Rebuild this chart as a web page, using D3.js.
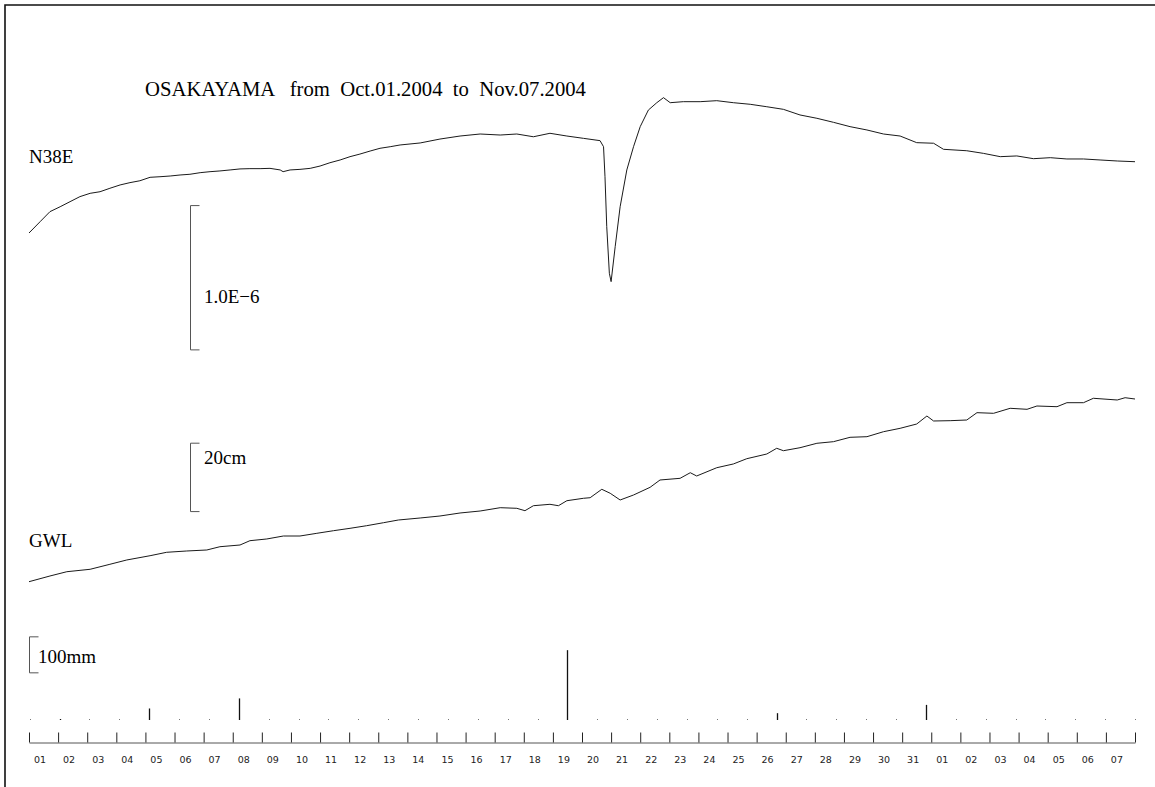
<!DOCTYPE html>
<html>
<head>
<meta charset="utf-8">
<script src="https://cdn.jsdelivr.net/npm/d3@7"></script>
<style>
  body { margin: 0; background: #fff; }
  text { white-space: pre; }
</style>
</head>
<body>
<script>
// day labels under the time axis (Oct.01 .. Nov.07)
let dayLabels = ["01","02","03","04","05","06","07","08","09","10","11","12","13","14","15","16",
  "17","18","19","20","21","22","23","24","25","26","27","28","29","30","31",
  "01","02","03","04","05","06","07"];

// N38E strain (units of 1.0E-6), day since Oct.01 00:00
let n38eDay = [0,0.38,0.72,1.07,1.41,1.75,2.10,2.44,2.78,3.13,3.47,3.81,4.16,4.50,4.85,5.19,5.53,5.88,
  6.22,6.56,6.91,7.25,7.59,7.94,8.28,8.63,8.73,8.97,9.31,9.66,10.00,10.34,10.69,11.03,11.37,11.72,
  12.06,12.41,12.75,13.44,14.12,14.81,15.50,16.19,16.76,17.33,17.90,18.48,19.05,19.62,19.74,19.79,
  19.85,19.94,20.00,20.14,20.31,20.54,20.77,21.00,21.28,21.57,21.80,22.03,22.48,23.06,23.63,24.20,
  24.78,25.35,25.92,26.49,27.07,27.64,28.21,28.79,29.36,29.93,30.50,31.08,31.42,32.22,32.79,33.37,
  33.94,34.51,35.09,35.66,36.23,36.80,37.39,38.00];
let n38eVal = [0,0.078,0.148,0.182,0.217,0.252,0.275,0.286,0.310,0.333,0.349,0.362,0.386,0.390,0.395,
  0.402,0.407,0.418,0.425,0.430,0.437,0.444,0.446,0.446,0.448,0.437,0.425,0.437,0.441,0.448,0.464,
  0.487,0.506,0.529,0.547,0.568,0.587,0.598,0.610,0.624,0.651,0.672,0.686,0.679,0.686,0.667,0.691,
  0.672,0.656,0.640,0.598,0.390,0.044,-0.279,-0.337,-0.095,0.182,0.437,0.598,0.737,0.852,0.903,
  0.938,0.903,0.910,0.910,0.917,0.903,0.892,0.875,0.857,0.818,0.795,0.767,0.737,0.714,0.686,0.672,
  0.626,0.622,0.580,0.570,0.552,0.529,0.534,0.515,0.522,0.513,0.513,0.506,0.499,0.494];

// GWL groundwater level (cm)
let gwlDay = [0,0.72,1.30,2.10,2.78,3.36,4.16,4.73,5.42,6.11,6.56,7.25,7.59,8.17,8.74,9.31,9.89,10.46,
  11.03,11.60,12.18,12.69,13.44,14.12,14.81,15.50,16.19,16.76,17.04,17.33,17.90,18.19,18.48,19.05,
  19.28,19.68,19.97,20.31,20.77,21.34,21.68,22.37,22.72,22.94,23.63,24.20,24.66,25.35,25.69,25.92,
  26.49,27.07,27.64,28.21,28.79,29.36,29.93,30.50,30.85,31.08,31.65,32.22,32.57,33.14,33.71,34.29,
  34.63,35.32,35.66,36.23,36.57,37.39,37.66,38.00];
let gwlVal = [0,1.67,2.92,3.63,5.09,6.35,7.60,8.60,8.98,9.27,10.23,10.73,11.99,12.49,13.36,13.36,14.15,
  14.91,15.61,16.37,17.25,18.04,18.63,19.21,20.09,20.67,21.64,21.46,20.76,22.22,22.63,22.22,23.68,
  24.39,24.56,27.02,25.85,23.89,25.35,27.60,29.74,30.23,31.87,30.91,33.33,34.42,35.96,37.34,39.01,
  38.30,39.18,40.47,40.94,42.22,42.40,43.86,44.85,46.11,48.45,46.99,47.08,47.28,49.42,49.24,50.70,
  50.41,51.37,51.17,52.34,52.34,53.63,53.13,53.80,53.42];

// daily rainfall (mm), one value per day
let rainMm = [0,2,0,0,32,0,0,60,0,0,0,0,0,0,0,0,0,0,194,0,0,0,0,0,0,19,0,0,0,0,42,0,0,0,0,0,0,0];

let svg = d3.select("body").append("svg")
    .attr("width", 1155)
    .attr("height", 787)
    .style("font-family", "'Liberation Serif', 'Times New Roman', serif");

// frame
svg.append("path")
    .attr("d", "M5,787V5H1155")
    .attr("fill", "none")
    .attr("stroke", "#111")
    .attr("stroke-width", 1.6);

let x = d3.scaleLinear().domain([0, 38]).range([29, 1135]);
let xRain = d3.scaleLinear().domain([0, 37]).range([29.7, 1135]);

let yN = d3.scaleLinear().domain([0, 1]).range([233, 88.7]);   // 1.0E-6 per 144 px
let yG = d3.scaleLinear().domain([0, 20]).range([581.7, 513.3]); // 20cm per 68 px
let yR = d3.scaleLinear().domain([0, 100]).range([720, 684]);  // 100mm per 36 px

svg.append("text")
    .attr("x", 145).attr("y", 96)
    .attr("font-size", 20.7)
    .text("OSAKAYAMA   from  Oct.01.2004  to  Nov.07.2004");

let lineN = d3.line()
    .x(function (d, i) { return x(n38eDay[i]); })
    .y(function (d) { return yN(d); });
let lineG = d3.line()
    .x(function (d, i) { return x(gwlDay[i]); })
    .y(function (d) { return yG(d); });

svg.append("path")
    .datum(n38eVal)
    .attr("d", lineN)
    .attr("fill", "none")
    .attr("stroke", "#1a1a1a")
    .attr("stroke-width", 1);

svg.append("path")
    .datum(gwlVal)
    .attr("d", lineG)
    .attr("fill", "none")
    .attr("stroke", "#1a1a1a")
    .attr("stroke-width", 1);

// scale brackets
function bracket(x0, yTop, yBot) {
    svg.append("path")
        .attr("d", "M" + (x0 + 9) + "," + yTop + "H" + x0 + "V" + yBot + "H" + (x0 + 9))
        .attr("fill", "none")
        .attr("stroke", "#555")
        .attr("stroke-width", 1);
}
bracket(190.5, yN(0.19), yN(-0.81));
bracket(190.5, yG(40.5), yG(20.5));
bracket(29.5, yR(231), yR(131));

svg.append("text").attr("x", 29).attr("y", 163).attr("font-size", 19).text("N38E");
svg.append("text").attr("x", 204).attr("y", 303).attr("font-size", 19).text("1.0E\u22126");
svg.append("text").attr("x", 204).attr("y", 464).attr("font-size", 19).text("20cm");
svg.append("text").attr("x", 29).attr("y", 547).attr("font-size", 19).text("GWL");
svg.append("text").attr("x", 38).attr("y", 663).attr("font-size", 19).text("100mm");

// rainfall bars
svg.selectAll(".rain")
    .data(rainMm)
    .enter().append("line")
    .attr("class", "rain")
    .attr("x1", function (d, i) { return Math.round(xRain(i)) + 0.5; })
    .attr("x2", function (d, i) { return Math.round(xRain(i)) + 0.5; })
    .attr("y1", yR(0))
    .attr("y2", function (d) { return Math.min(yR(d), yR(0) - 1); })
    .attr("stroke", function (d) { return d > 0 ? "#111" : "#777"; })
    .attr("stroke-width", function (d) { return d > 0 ? 1.3 : 1; });

// time axis
let axis = svg.append("g")
    .attr("transform", "translate(0,742.5)")
    .call(d3.axisTop(x)
        .tickValues(d3.range(0, 39))
        .tickSizeInner(10)
        .tickSizeOuter(0)
        .tickFormat(""));
axis.select(".domain").attr("stroke", "#555");
axis.selectAll(".tick line").attr("stroke", "#222");

svg.selectAll(".daylabel")
    .data(dayLabels)
    .enter().append("text")
    .attr("class", "daylabel")
    .attr("x", function (d, i) { return x(i) + 11; })
    .attr("y", 763)
    .attr("text-anchor", "middle")
    .attr("font-family", "'DejaVu Sans', sans-serif")
    .attr("font-size", 9.5)
    .attr("fill", "#222")
    .text(function (d) { return d; });
</script>
</body>
</html>
